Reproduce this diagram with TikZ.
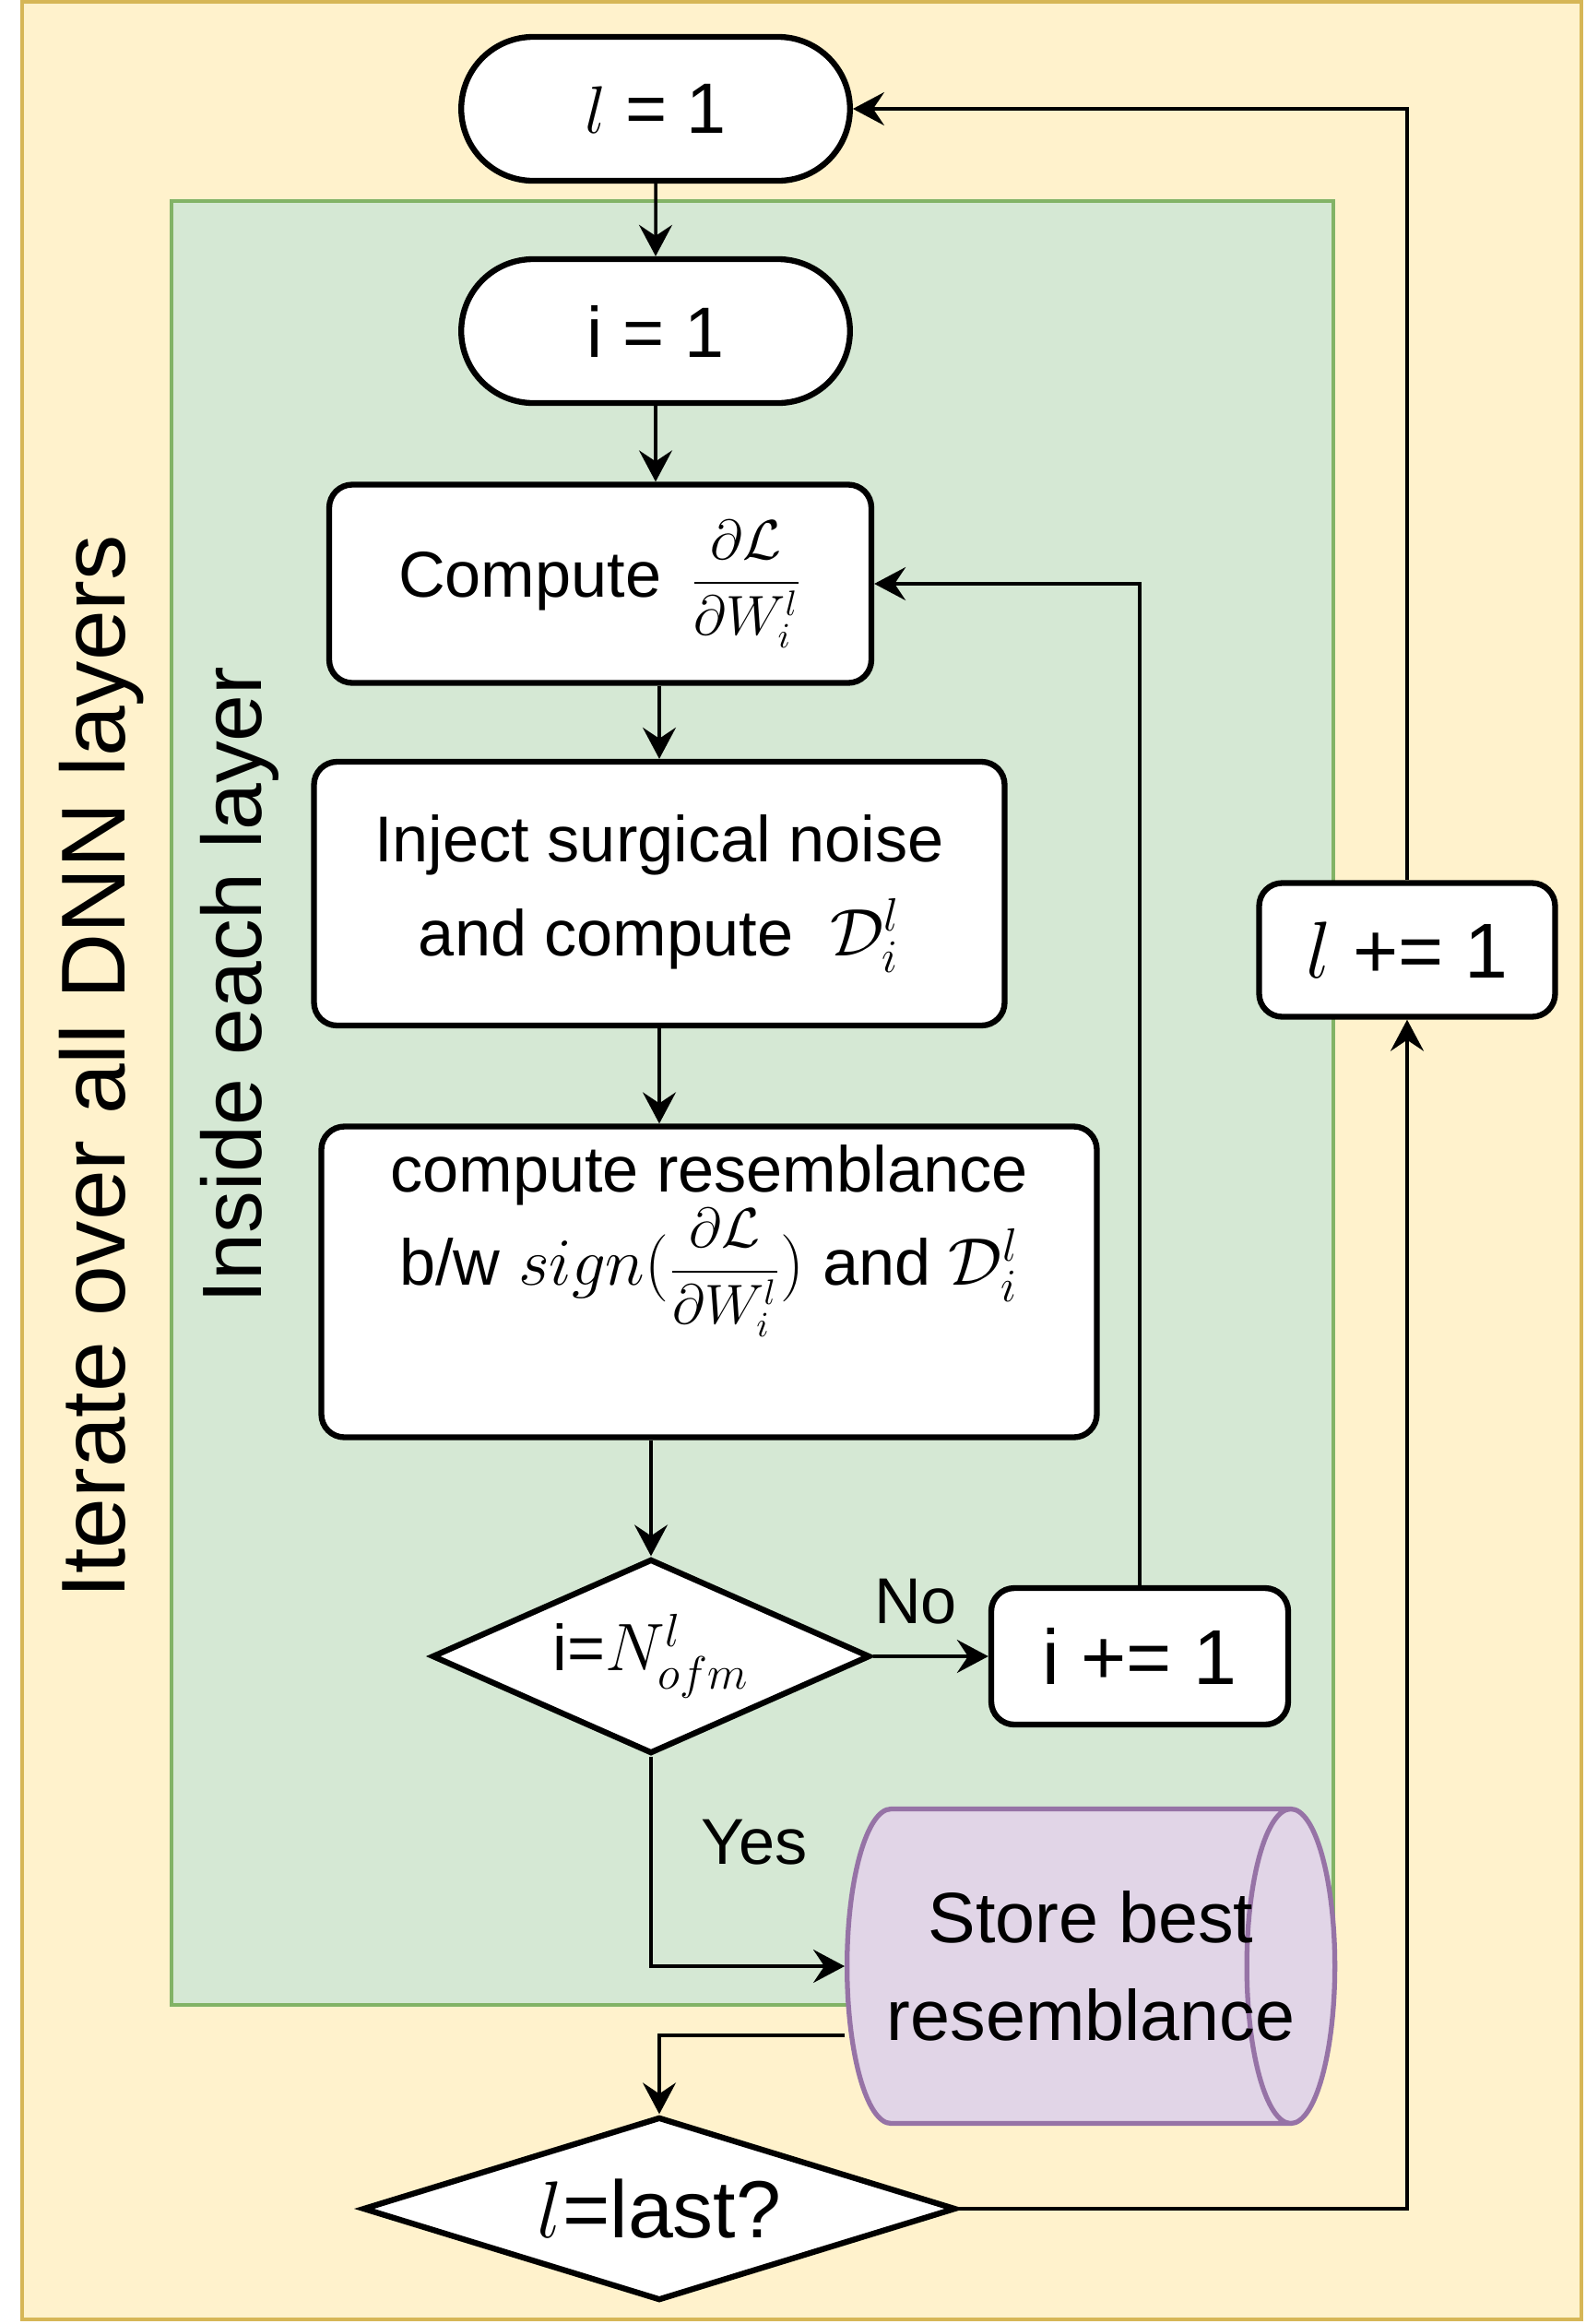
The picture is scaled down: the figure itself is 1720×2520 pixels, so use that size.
\documentclass[tikz,border=0pt]{standalone}
\usepackage{amssymb}
\usepackage{amsmath}
\usepackage{fontspec}
\setmainfont{Liberation Sans}
\usepackage{xcolor}
\usepackage{tikz}
\usetikzlibrary{arrows.meta,shapes.geometric,shapes.misc,positioning,calc}
\definecolor{outerfill}{HTML}{FFF2CC}
\definecolor{outerline}{HTML}{D6B656}
\definecolor{innerfill}{HTML}{D5E8D4}
\definecolor{innerline}{HTML}{82B366}
\definecolor{storefill}{HTML}{E1D5E7}
\definecolor{storeline}{HTML}{9673A6}
\newcommand{\gradfrac}{\text{\fontsize{16}{19}\selectfont$\dfrac{\partial\mathcal{L}}{\partial W_i^l}$}}
\tikzstyle{terminal}=[rounded rectangle,draw,fill=white,line width=1.8pt,minimum width=44.5mm,minimum height=15.6mm,font=\fontsize{22}{26}\selectfont]
\tikzstyle{process}=[rectangle,rounded corners=2.5mm,draw,fill=white,line width=1.8pt,align=center,inner sep=0pt,font=\fontsize{20}{29}\selectfont]
\tikzstyle{decision}=[diamond,draw,fill=white,line width=1.8pt,inner sep=0pt,font=\fontsize{20}{24}\selectfont]
\tikzstyle{storage}=[cylinder,draw=storeline,fill=storefill,line width=1.5pt,aspect=0.28,inner sep=0pt]
\tikzset{>={Stealth[length=3.4mm,width=3.6mm,inset=1.2mm]}}

\begin{document}
\begin{tikzpicture}[x=0.1mm,y=-0.1mm,conn/.style={line width=1pt},lbl/.style={inner sep=0pt,font=\fontsize{20}{24}\selectfont}]
      \useasboundingbox (0,0) rectangle (1720,2520);
      % the two loops
      \draw[outerline,fill=outerfill,line width=1pt] (24,2) rectangle (1715,2515);
      \draw[innerline,fill=innerfill,line width=1pt] (186,218) rectangle (1446,2174);
      \node[rotate=90,anchor=base,font=\fontsize{28}{34}\selectfont] (outertitle) at (135,1157) {Iterate over all DNN layers};
      \node[rotate=90,anchor=base,font=\fontsize{26}{31}\selectfont] (innertitle) at (283,1068) {Inside each layer};

      \node[terminal] (l1) at (711,118) {$l$ = 1};
      \node[terminal] (i1) at (711,359) {i = 1};
      \node[process,minimum width=58.8mm,minimum height=21.5mm] (grad) at (651,633) {Compute \,$\gradfrac$};
      \node[process,minimum width=74.9mm,minimum height=28.6mm] (inject) at (715,969) {Inject surgical noise\\and compute $\;\mathcal{D}_i^l$};
      \node[process,minimum width=84.1mm,minimum height=33.7mm] (resem) at (769,1390) {compute resemblance\\b/w $sign(\gradfrac)$ and $\mathcal{D}_i^l$\rule[-14.5mm]{0pt}{0pt}};
      \node[decision,aspect=2.25,minimum width=47.5mm,minimum height=21.1mm] (ifN) at (706,1796) {i=$N^l_{ofm}$};
      \node[process,minimum width=32.2mm,minimum height=14.8mm,font=\fontsize{24}{28}\selectfont] (incI) at (1236,1796) {i += 1};
      \node[storage,minimum width=34.1mm,minimum height=52.9mm,anchor=west] (store) at (916,2132) {\rule{0pt}{34.1mm}};
      \node[align=center,inner sep=0pt,font=\fontsize{22}{30}\selectfont] (storetext) at ($(store.west)!0.5!(store.east)$) {Store best\\resemblance};
      \node[decision,aspect=3.23,minimum width=64.3mm,minimum height=19.9mm,font=\fontsize{25}{30}\selectfont] (last) at (715,2395) {$l$=last?};
      \node[process,minimum width=32.1mm,minimum height=14.5mm,font=\fontsize{24}{28}\selectfont] (incL) at (1526,1030) {$l$ += 1};

      \draw[conn,->] (l1) -- (i1);
      \draw[conn,->] (i1.south) -- (i1.south |- grad.north);
      \draw[conn,->] (inject.north |- grad.south) -- (inject.north);
      \draw[conn,->] (inject.south) -- (inject.south |- resem.north);
      \draw[conn,->] (ifN.north |- resem.south) -- (ifN.north);
      \draw[conn,->] (ifN.east) -- node[lbl,pos=0.37,above=3.3mm] {No} (incI.west);
      \draw[conn,->] (incI.north) |- (grad.east);
      \draw[conn,->] (ifN.south) |- node[lbl,pos=0.205,anchor=west,xshift=5.3mm] {Yes} (store.west);
      \draw[conn,->] ([yshift=-7.5mm]store.west) -| (last.north);
      \draw[conn,->] (last.east) -| (incL.south);
      \draw[conn,->] (incL.north) |- (l1.east);
\end{tikzpicture}
\end{document}
